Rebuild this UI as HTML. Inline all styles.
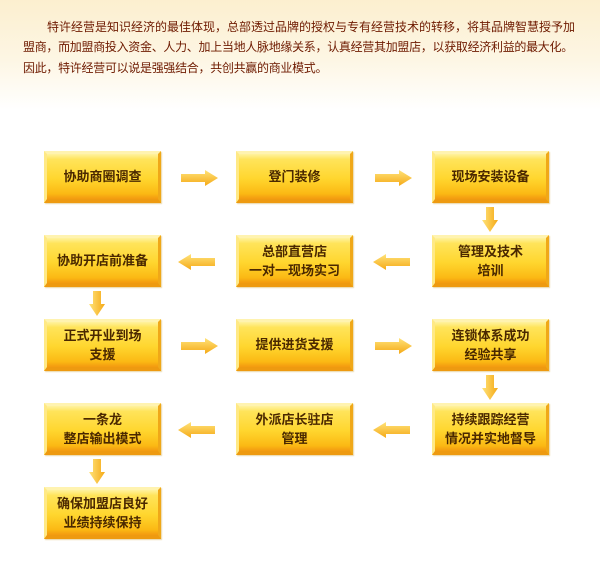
<!DOCTYPE html>
<html><head><meta charset="utf-8"><style>
html,body{margin:0;padding:0}
body{width:600px;height:577px;position:relative;overflow:hidden;background:linear-gradient(#fcefcf 0px,#fdf6e4 60px,#ffffff 110px);font-family:"Liberation Sans","Noto Sans CJK SC","WenQuanYi Zen Hei",sans-serif}
.l{position:absolute;font-size:12px;line-height:20px;color:#6e1a00;white-space:nowrap}
.b{position:absolute;width:117px;height:52px;box-sizing:border-box;display:flex;align-items:center;justify-content:center;text-align:center;font-size:13px;font-weight:bold;line-height:19px;color:#4a2800;
background:linear-gradient(#fff2a0 0%,#ffe45a 12%,#ffd62e 55%,#fbb914 88%,#f39a10 100%);
border-top:3px solid #fff3b0;border-left:3px solid #ffe985;border-right:3px solid #f0a818;border-bottom:4px solid #ee9a10;box-shadow:1px 1px 1px #e9d6a8}
.h{position:absolute;width:37px;height:16px}
.v{position:absolute;width:16px;height:25px}
</style></head><body>
<div class="l" style="left:47px;top:17px;letter-spacing:0px">特许经营是知识经济的最佳体现，总部透过品牌的授权与专有经营技术的转移，将其品牌智慧授予加</div>
<div class="l" style="left:23px;top:37px;letter-spacing:-0.3px">盟商，而加盟商投入资金、人力、加上当地人脉地缘关系，认真经营其加盟店，以获取经济利益的最大化。</div>
<div class="l" style="left:23px;top:58px;letter-spacing:-0.3px">因此，特许经营可以说是强强结合，共创共赢的商业模式。</div>

<div class="b" style="left:44px;top:151px">协助商圈调查</div>
<div class="b" style="left:236px;top:151px">登门装修</div>
<div class="b" style="left:432px;top:151px">现场安装设备</div>

<div class="b" style="left:44px;top:235px">协助开店前准备</div>
<div class="b" style="left:236px;top:235px">总部直营店<br>一对一现场实习</div>
<div class="b" style="left:432px;top:235px">管理及技术<br>培训</div>

<div class="b" style="left:44px;top:319px">正式开业到场<br>支援</div>
<div class="b" style="left:236px;top:319px">提供进货支援</div>
<div class="b" style="left:432px;top:319px">连锁体系成功<br>经验共享</div>

<div class="b" style="left:44px;top:403px">一条龙<br>整店输出模式</div>
<div class="b" style="left:236px;top:403px">外派店长驻店<br>管理</div>
<div class="b" style="left:432px;top:403px">持续跟踪经营<br>情况并实地督导</div>

<div class="b" style="left:44px;top:487px">确保加盟店良好<br>业绩持续保持</div>

<svg width="0" height="0" style="position:absolute"><defs>
<linearGradient id="g" x1="0" y1="0" x2="0" y2="1"><stop offset="0" stop-color="#ffe37a"/><stop offset="1" stop-color="#f5a916"/></linearGradient>
<linearGradient id="gv" x1="0" y1="0" x2="1" y2="0"><stop offset="0" stop-color="#ffe37a"/><stop offset="1" stop-color="#f5a916"/></linearGradient>
</defs></svg>

<svg class="h" style="left:181px;top:170px" viewBox="0 0 37 16"><path d="M0 4H24V0L37 8L24 16V12H0Z" fill="url(#g)"/></svg>
<svg class="h" style="left:375px;top:170px" viewBox="0 0 37 16"><path d="M0 4H24V0L37 8L24 16V12H0Z" fill="url(#g)"/></svg>
<svg class="h" style="left:181px;top:338px" viewBox="0 0 37 16"><path d="M0 4H24V0L37 8L24 16V12H0Z" fill="url(#g)"/></svg>
<svg class="h" style="left:375px;top:338px" viewBox="0 0 37 16"><path d="M0 4H24V0L37 8L24 16V12H0Z" fill="url(#g)"/></svg>
<svg class="h" style="left:178px;top:254px" viewBox="0 0 37 16"><path d="M37 4H13V0L0 8L13 16V12H37Z" fill="url(#g)"/></svg>
<svg class="h" style="left:373px;top:254px" viewBox="0 0 37 16"><path d="M37 4H13V0L0 8L13 16V12H37Z" fill="url(#g)"/></svg>
<svg class="h" style="left:178px;top:422px" viewBox="0 0 37 16"><path d="M37 4H13V0L0 8L13 16V12H37Z" fill="url(#g)"/></svg>
<svg class="h" style="left:373px;top:422px" viewBox="0 0 37 16"><path d="M37 4H13V0L0 8L13 16V12H37Z" fill="url(#g)"/></svg>
<svg class="v" style="left:482px;top:207px" viewBox="0 0 16 25"><path d="M4 0H12V13H16L8 25L0 13H4Z" fill="url(#gv)"/></svg>
<svg class="v" style="left:89px;top:291px" viewBox="0 0 16 25"><path d="M4 0H12V13H16L8 25L0 13H4Z" fill="url(#gv)"/></svg>
<svg class="v" style="left:482px;top:375px" viewBox="0 0 16 25"><path d="M4 0H12V13H16L8 25L0 13H4Z" fill="url(#gv)"/></svg>
<svg class="v" style="left:89px;top:459px" viewBox="0 0 16 25"><path d="M4 0H12V13H16L8 25L0 13H4Z" fill="url(#gv)"/></svg>
</body></html>
